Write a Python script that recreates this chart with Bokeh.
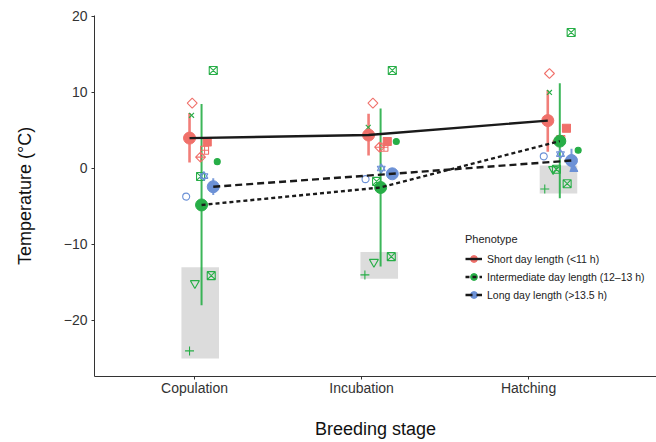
import math
from bokeh.plotting import figure
from bokeh.models import Range1d, FixedTicker, ColumnDataSource, Legend, LegendItem
from bokeh.embed import file_html
from bokeh.resources import INLINE

# ---------------- data ----------------
stages = ["Copulation", "Incubation", "Hatching"]
stage_ticks = [1, 2, 3]
cluster_x = [1.042, 2.114, 3.187]          # plotted centre of each stage's cluster

groups = ["Short day length (<11 h)",
          "Intermediate day length (12\u201313 h)",
          "Long day length (>13.5 h)"]

short_mean = [4.0, 4.4, 6.3]
short_lo = [0.8, 1.7, 2.2]
short_hi = [7.3, 7.2, 10.3]
inter_mean = [-4.8, -2.5, 3.6]
inter_lo = [-18.0, -12.9, -3.9]
inter_hi = [8.5, 7.9, 11.2]
long_mean = [-2.4, -0.7, 1.05]
long_lo = [-3.5, -1.1, -0.4]
long_hi = [-1.3, -0.3, 2.6]

band_lo = [-25.0, -14.5, -3.3]
band_hi = [-13.0, -11.0, 0.4]

# individual estimates
pt_stage = [0, 0, 0, 0, 0, 0, 0, 0, 0, 0, 0, 0, 0,
            1, 1, 1, 1, 1, 1, 1, 1, 1, 1, 1, 1, 1,
            2, 2, 2, 2, 2, 2, 2, 2, 2, 2, 2, 2, 2, 2]
pt_offset = [0.070, -0.056, -0.060, 0.034, 0.018, -0.006, 0.094, -0.006, 0.014, -0.092, 0.058, -0.040, -0.072,
             0.070, -0.046, -0.074, 0.040, 0.094, 0.020, -0.006, 0.004, -0.090, -0.024, 0.064, -0.040, -0.094,
             0.068, -0.062, -0.062, 0.040, 0.006, -0.012, 0.110, -0.096, 0.004, 0.084, -0.040, -0.020, -0.090, 0.044]
pt_temp = [12.9, 8.6, 7.0, 3.5, 2.4, 1.5, 0.9, -1.05, -1.0, -3.7, -14.1, -15.1, -24.0,
           12.9, 8.6, 5.4, 3.55, 3.55, 2.8, 2.8, 0.0, -1.4, -1.7, -11.6, -12.3, -14.0,
           17.9, 12.5, 10.0, 5.3, 3.8, 3.6, 2.4, 1.6, 1.9, -0.1, -0.1, -0.1, -2.7, -2.0]
pt_group = [1, 0, 1, 0, 0, 0, 1, 1, 2, 2, 1, 1, 1,
            1, 0, 1, 0, 1, 0, 0, 2, 2, 1, 1, 1, 1,
            1, 0, 1, 0, 0, 0, 1, 2, 2, 2, 1, 1, 1, 1]
pt_shape = ["square_x", "open_diamond", "x", "filled_square", "square_plus", "diamond_plus", "dot",
            "square_x", "star", "open_circle", "square_tri", "open_down_triangle", "plus",
            "square_x", "open_diamond", "x", "filled_square", "dot", "square_plus", "diamond_plus",
            "star", "open_circle", "square_x", "square_tri", "open_down_triangle", "plus",
            "square_x", "open_diamond", "x", "filled_square", "square_plus", "diamond_plus", "dot",
            "open_circle", "star", "filled_triangle", "open_down_triangle", "square_x", "plus", "square_tri"]

# ---------------- styles ----------------
colors = ["#F0706A", "#27AE47", "#6C91D6"]
dodge = [-0.072, 0.0, 0.070]
dashes = ["solid", "4 3", "7 4"]
bar_widths = [2.6, 2.0, 2.0]
band_offset = -0.008
band_width = 0.225
FONT = "Liberation Sans"
Q = math.pi / 4

# shape -> list of (bokeh marker, filled, size, angle)
shape_style = {
    "square_x": [("square_x", False, 8, 0)],
    "square_tri": [("square_x", False, 8, 0)],
    "open_diamond": [("square", False, 7, Q)],
    "x": [("x", False, 7, 0)],
    "filled_square": [("square", True, 8, 0)],
    "square_plus": [("square_cross", False, 8, 0)],
    "diamond_plus": [("square_x", False, 7, Q)],
    "dot": [("circle", True, 6, 0)],
    "star": [("triangle", False, 8, 0), ("inverted_triangle", False, 8, 0)],
    "open_circle": [("circle", False, 7, 0)],
    "open_down_triangle": [("inverted_triangle", False, 9, 0)],
    "plus": [("cross", False, 9, 0)],
    "filled_triangle": [("triangle", True, 8, 0)],
}

p = figure(width=656, height=442,
           x_range=Range1d(0.401, 3.766), y_range=Range1d(-27.37, 20.13),
           output_backend="svg", toolbar_location=None,
           min_border_left=94, min_border_right=0, min_border_top=15, min_border_bottom=66)
p.xgrid.visible = False
p.ygrid.visible = False
p.outline_line_color = None
p.background_fill_color = "white"

# grey bands
band_x = [cluster_x[i] + band_offset for i in range(3)]
p.rect(x=band_x, y=[(a + b) / 2 for a, b in zip(band_lo, band_hi)],
       width=band_width, height=[b - a for a, b in zip(band_lo, band_hi)],
       fill_color="#DCDCDC", line_color=None)

means = [short_mean, inter_mean, long_mean]
los = [short_lo, inter_lo, long_lo]
his = [short_hi, inter_hi, long_hi]

# error bars
for g in range(3):
    xs = [cluster_x[i] + dodge[g] for i in range(3)]
    p.segment(x0=xs, x1=xs, y0=los[g], y1=his[g], line_color=colors[g],
              line_width=bar_widths[g], line_alpha=0.9)

# individual points
xs, ys, mk, lc, fc, fa, sz, an = [], [], [], [], [], [], [], []
for s, o, t, g, sh in zip(pt_stage, pt_offset, pt_temp, pt_group, pt_shape):
    for m, filled, size, ang in shape_style[sh]:
        xs.append(cluster_x[s] + o)
        ys.append(t)
        mk.append(m)
        lc.append(colors[g])
        fc.append(colors[g])
        fa.append(1.0 if filled else 0.0)
        sz.append(size)
        an.append(ang)
src = ColumnDataSource(dict(x=xs, y=ys, marker=mk, lc=lc, fc=fc, fa=fa, size=sz, angle=an))
p.scatter(x="x", y="y", marker="marker", size="size", angle="angle", line_color="lc",
          fill_color="fc", fill_alpha="fa", line_width=1.1, source=src)

# means and connecting lines
mean_r, line_r, leg_r = [], [], []
for g in range(3):
    xs_g = [cluster_x[i] + dodge[g] for i in range(3)]
    mean_r.append(p.scatter(x=xs_g, y=means[g], size=12, marker="circle",
                            fill_color=colors[g], line_color=colors[g]))
for g in range(3):
    xs_g = [cluster_x[i] + dodge[g] for i in range(3)]
    line_r.append(p.line(x=xs_g, y=means[g], line_color="#1A1A1A", line_width=2.4,
                         line_dash=dashes[g]))
    leg_r.append(p.scatter(x=[], y=[], marker="cross", size=12, line_color=colors[g],
                           line_width=2.2))

legend = Legend(items=[LegendItem(label=groups[g], renderers=[leg_r[g], mean_r[g], line_r[g]])
                       for g in range(3)],
                location=(371, 73), title="Phenotype",
                title_text_font=FONT, title_text_font_size="11px", title_text_font_style="normal",
                title_text_color="#222222", title_standoff=5,
                label_text_font=FONT, label_text_font_size="10.5px", label_text_color="#222222",
                glyph_width=17, glyph_height=17, spacing=1, padding=0, margin=0,
                label_standoff=5, border_line_color=None, background_fill_alpha=0)
p.add_layout(legend)

# axes
p.xaxis.ticker = FixedTicker(ticks=stage_ticks)
p.xaxis.major_label_overrides = {t: s for t, s in zip(stage_ticks, stages)}
y_ticks = [-20, -10, 0, 10, 20]
p.yaxis.ticker = FixedTicker(ticks=y_ticks)
p.yaxis.major_label_overrides = {t: str(t).replace("-", "\u2212") for t in y_ticks}
p.xaxis.axis_label = "Breeding stage"
p.yaxis.axis_label = "Temperature (\u00b0C)"
for ax in (p.xaxis[0], p.yaxis[0]):
    ax.axis_line_color = "#333333"
    ax.axis_line_width = 1
    ax.major_tick_line_color = "#333333"
    ax.major_tick_out = 3
    ax.major_tick_in = 0
    ax.minor_tick_line_color = None
    ax.major_label_text_font = FONT
    ax.major_label_text_font_size = "14px"
    ax.major_label_text_color = "#333333"
    ax.axis_label_text_font = FONT
    ax.axis_label_text_font_size = "18px"
    ax.axis_label_text_font_style = "normal"
    ax.axis_label_text_color = "#111111"
p.xaxis.major_label_standoff = 0
p.yaxis.major_label_standoff = 4
p.xaxis.axis_label_standoff = 20
p.yaxis.axis_label_standoff = 26

open("out.html", "w").write(file_html(p, INLINE))
